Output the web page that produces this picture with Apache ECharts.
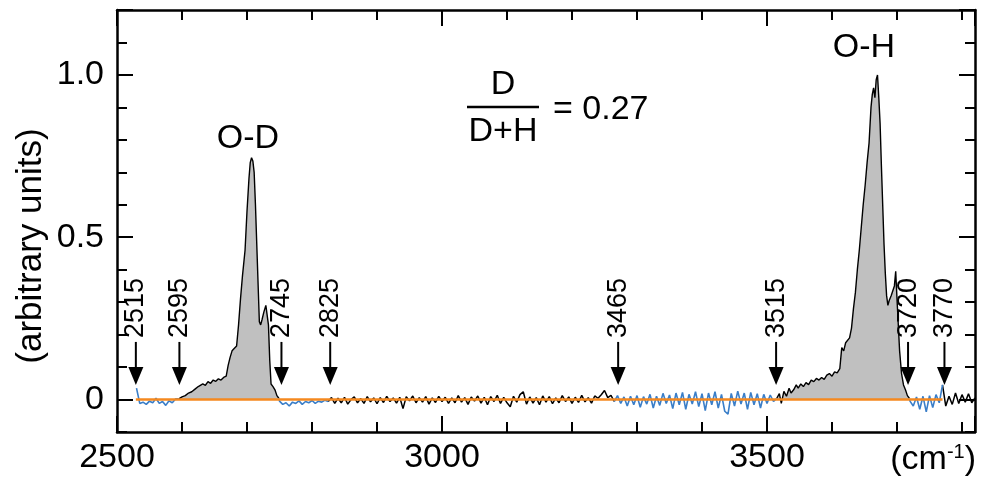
<!DOCTYPE html>
<html>
<head>
<meta charset="utf-8">
<title>O-D / O-H spectrum</title>
<script src="https://cdn.jsdelivr.net/npm/echarts@6.0.0/dist/echarts.min.js"></script>
<style>
  html, body { margin: 0; padding: 0; background: #fff; }
  #main { width: 982px; height: 479px; }
</style>
</head>
<body>
<div id="main"></div>
<script>
// ---- data (wavenumber in cm-1, intensity in arbitrary units) ----
const noiseStep = 5;

// baseline fit regions (blue), evenly sampled
const blueAStart = 2530;
const blueA = [0.035, -0.012, -0.008, -0.015, -0.005, -0.010, 0.004, -0.012, -0.006, -0.018, -0.004, -0.010, 0.002];
const blueBStart = 2750;
const blueB = [-0.005, -0.015, -0.010, -0.020, -0.008, -0.012, -0.004, -0.015, -0.006, -0.010, -0.003, -0.012, -0.005, -0.008, -0.002];
const blueDStart = 3270;
const blueD = [0.012, -0.012, 0.008, -0.020, 0.010, -0.016, 0.012, -0.024, 0.009, -0.014,
  0.016, -0.026, 0.010, -0.018, 0.019, -0.012, 0.014, -0.028, 0.020, -0.016,
  0.022, -0.030, 0.016, -0.014, 0.024, -0.022, 0.018, -0.034, 0.020, -0.016,
  0.024, -0.026, 0.016, -0.036, -0.045, 0.019, -0.020, 0.026, -0.014, 0.020,
  -0.030, 0.022, -0.016, 0.018, -0.026, 0.016, -0.012, 0.014, -0.006];
const blueEStart = 3720;
const blueE = [-0.005, -0.020, 0.008, -0.030, 0.010, -0.038, 0.012, -0.025, 0.015, -0.010];

// spectrum outside the fit regions (black)
const blackCStart = 2825;
const blackC = [-0.006, 0.006, -0.012, 0.004, -0.010, 0.007, -0.014, 0.000, 0.008, -0.010,
  0.003, -0.012, 0.009, -0.007, 0.005, -0.013, 0.006, -0.009, 0.010, -0.006,
  0.005, -0.011, 0.007, -0.028, 0.009, -0.004, 0.011, -0.010, 0.006, -0.008,
  0.009, -0.014, 0.005, -0.009, 0.010, -0.006, 0.007, -0.012, 0.005, -0.010,
  0.012, -0.008, 0.006, -0.015, 0.008, -0.005, 0.011, -0.011, 0.007, -0.016,
  0.009, -0.006, 0.013, -0.012, 0.007, -0.010, -0.022, 0.010, -0.008, 0.015,
  0.024, -0.014, 0.008, -0.011, 0.006, -0.016, 0.011, -0.008, 0.009, -0.013,
  0.005, -0.010, 0.012, -0.006, 0.008, -0.012, 0.007, -0.009, 0.013, -0.007,
  0.006, -0.011, 0.011, 0.004, 0.015, 0.028, 0.006, 0.013, -0.006];
const blackFStart = 3770;
const blackF = [0.045, -0.020, 0.010, -0.015, 0.020, -0.012, 0.015, -0.008, 0.018, -0.010, 0.005];

// integrated peaks (grey area)
const peakOD = [[2595, 0.002], [2600, 0.008], [2605, 0.012], [2610, 0.020], [2615, 0.024], [2620, 0.032],
  [2625, 0.040], [2628, 0.035], [2632, 0.048], [2636, 0.044], [2640, 0.055], [2644, 0.050],
  [2648, 0.060], [2652, 0.056], [2656, 0.064], [2660, 0.060], [2664, 0.068], [2668, 0.072],
  [2671, 0.105], [2674, 0.130], [2677, 0.150], [2680, 0.152], [2684, 0.165], [2687, 0.230],
  [2690, 0.310], [2693, 0.380], [2697, 0.460], [2700, 0.580], [2703, 0.680], [2705, 0.730],
  [2707, 0.745], [2709, 0.735], [2711, 0.700], [2713, 0.600], [2715, 0.480], [2717, 0.360],
  [2719, 0.240], [2721, 0.230], [2723, 0.245], [2726, 0.270], [2729, 0.290], [2731, 0.290],
  [2733, 0.230], [2735, 0.120], [2737, 0.048], [2740, 0.040], [2743, 0.030], [2746, 0.012], [2749, 0.004]];
const peakOH = [[3515, 0.004], [3519, 0.018], [3522, -0.012], [3526, 0.025], [3530, 0.010], [3534, 0.035],
  [3537, 0.020], [3541, 0.030], [3545, 0.045], [3548, 0.035], [3552, 0.048], [3556, 0.040],
  [3560, 0.052], [3564, 0.046], [3568, 0.060], [3572, 0.055], [3576, 0.065], [3580, 0.060],
  [3584, 0.068], [3588, 0.062], [3592, 0.075], [3596, 0.080], [3600, 0.072], [3604, 0.085],
  [3608, 0.082], [3612, 0.095], [3615, 0.160], [3618, 0.150], [3621, 0.175], [3624, 0.170],
  [3627, 0.190], [3630, 0.220], [3633, 0.280], [3636, 0.330], [3639, 0.400], [3642, 0.460],
  [3645, 0.530], [3648, 0.600], [3651, 0.660], [3654, 0.730], [3657, 0.790], [3660, 0.900],
  [3662, 0.940], [3664, 0.960], [3666, 0.930], [3668, 0.985], [3670, 1.000], [3672, 0.930],
  [3674, 0.850], [3676, 0.720], [3678, 0.600], [3680, 0.480], [3682, 0.390], [3684, 0.320],
  [3686, 0.290], [3688, 0.305], [3691, 0.320], [3694, 0.315], [3696, 0.350], [3698, 0.395],
  [3700, 0.310], [3702, 0.230], [3704, 0.150], [3707, 0.080], [3710, 0.045], [3713, 0.030],
  [3716, 0.012], [3719, 0.004]];

// baseline (orange) and arrow markers
const baselineX = [2529, 3770];
const baselineY = [0, 0];
const arrowX = [2529, 2596, 2753, 2828, 3271, 3514, 3717, 3773];
const arrowLabels = ['2515', '2595', '2745', '2825', '3465', '3515', '3720', '3770'];
const arrowTipY = 0.045;

// ---- helpers ----
const FONT = '"Liberation Sans", Arial, sans-serif';
function seg(start, ys) {
  return ys.map((y, i) => [start + i * noiseStep, y]);
}
function first(a) { return a[0]; }
function last(a) { return a[a.length - 1]; }

const segC = seg(blackCStart, blackC);
const segF = seg(blackFStart, blackF);
const blueSegs = [
  seg(blueAStart, blueA).concat([first(peakOD)]),
  [last(peakOD)].concat(seg(blueBStart, blueB), [first(segC)]),
  [last(segC)].concat(seg(blueDStart, blueD), [first(peakOH)]),
  [last(peakOH)].concat(seg(blueEStart, blueE), [first(segF)])
];
const blackSegs = [segC, segF];
const peakSegs = [peakOD, peakOH];

let myChart = echarts.init(document.getElementById('main'));

const axisLineStyle = { show: true, onZero: false, lineStyle: { color: '#000', width: 2.5 } };
const tickStyle = { color: '#000', width: 2 };

function xAx(pos, interval, tickLen, withLine, showLabel) {
  return {
    type: 'value', gridIndex: 0, position: pos, min: 2500, max: 3820, interval: interval,
    axisLine: withLine ? axisLineStyle : { show: false, onZero: false },
    axisTick: { show: true, inside: true, length: tickLen, lineStyle: tickStyle },
    axisLabel: showLabel ? {
      show: true, margin: 9, color: '#000', fontSize: 34, fontFamily: FONT,
      formatter: v => (v % 500 === 0 ? String(v) : '')
    } : { show: false },
    splitLine: { show: false }
  };
}
function yAx(grid, pos, min, interval, tickLen, withLine, showLabel) {
  return {
    type: 'value', gridIndex: grid, position: pos, min: min, max: 1.2, interval: interval,
    axisLine: withLine ? axisLineStyle : { show: false, onZero: false },
    axisTick: { show: true, inside: true, length: tickLen, lineStyle: tickStyle },
    axisLabel: showLabel ? {
      show: true, margin: 13, color: '#000', fontSize: 34, fontFamily: FONT,
      formatter: v => (v > 1.05 ? '' : (v === 0 ? '0' : v.toFixed(1)))
    } : { show: false },
    splitLine: { show: false }
  };
}

const series = [];
// grey peaks with black outline
peakSegs.forEach(d => series.push({
  type: 'line', xAxisIndex: 0, yAxisIndex: 0, data: d, symbol: 'none', z: 2,
  lineStyle: { color: '#000', width: 1.4 },
  areaStyle: { color: '#c0c0c0', opacity: 1 }
}));
blackSegs.forEach(d => series.push({
  type: 'line', xAxisIndex: 0, yAxisIndex: 0, data: d, symbol: 'none', z: 3,
  lineStyle: { color: '#000', width: 1.5 }
}));
blueSegs.forEach(d => series.push({
  type: 'line', xAxisIndex: 0, yAxisIndex: 0, data: d, symbol: 'none', z: 3,
  lineStyle: { color: '#3a7ec8', width: 1.6 }
}));
// baseline
series.push({
  type: 'line', xAxisIndex: 0, yAxisIndex: 0, symbol: 'none', z: 4,
  data: baselineX.map((x, i) => [x, baselineY[i]]),
  lineStyle: { color: '#f5891f', width: 2.5 }
});
// arrows with rotated labels
series.push({
  type: 'custom', xAxisIndex: 0, yAxisIndex: 0, z: 5, clip: false,
  data: arrowX.map(x => [x, arrowTipY]),
  renderItem: function (params, api) {
    const p = api.coord([api.value(0), api.value(1)]);
    const x = p[0], tip = p[1];
    return {
      type: 'group',
      children: [
        { type: 'line', shape: { x1: x, y1: tip - 43, x2: x, y2: tip - 14 }, style: { stroke: '#000', lineWidth: 2 } },
        { type: 'polygon', shape: { points: [[x - 7.5, tip - 18], [x + 7.5, tip - 18], [x, tip]] }, style: { fill: '#000' } },
        {
          type: 'text', x: x, y: tip - 47, rotation: Math.PI / 2,
          style: { text: arrowLabels[params.dataIndex], fill: '#000', font: '27px ' + FONT, align: 'left', verticalAlign: 'middle' }
        }
      ]
    };
  }
});

myChart.setOption({
  animation: false,
  backgroundColor: '#fff',
  grid: [
    { left: 117, right: 7, top: 10, bottom: 47 },
    // same pixel mapping, used for the labelled 0 / 0.5 / 1.0 ticks
    { left: 117, right: 7, top: 10, bottom: 79.5 }
  ],
  xAxis: [
    xAx('bottom', 100, 10, true, false),
    xAx('top', 100, 10, true, false),
    xAx('bottom', 500, 16, false, true),
    xAx('top', 500, 16, false, false),
    { type: 'value', gridIndex: 1, min: 2500, max: 3820, show: false }
  ],
  yAxis: [
    yAx(0, 'left', -0.1, 0.1, 10, true, false),
    yAx(0, 'right', -0.1, 0.1, 10, true, false),
    yAx(1, 'left', 0, 0.5, 16, false, true),
    yAx(1, 'right', 0, 0.5, 16, false, false)
  ],
  graphic: [
    { type: 'text', x: 31, y: 246, rotation: Math.PI / 2,
      style: { text: '(arbitrary units)', fill: '#000', font: '35px ' + FONT, align: 'center', verticalAlign: 'middle' } },
    { type: 'text', x: 248, y: 139,
      style: { text: 'O-D', fill: '#000', font: '34px ' + FONT, align: 'center', verticalAlign: 'middle' } },
    { type: 'text', x: 864, y: 48,
      style: { text: 'O-H', fill: '#000', font: '34px ' + FONT, align: 'center', verticalAlign: 'middle' } },
    { type: 'text', x: 503, y: 85,
      style: { text: 'D', fill: '#000', font: '34px ' + FONT, align: 'center', verticalAlign: 'middle' } },
    { type: 'line', shape: { x1: 467, y1: 107, x2: 539, y2: 107 }, style: { stroke: '#000', lineWidth: 2.3 } },
    { type: 'text', x: 503, y: 132,
      style: { text: 'D+H', fill: '#000', font: '34px ' + FONT, align: 'center', verticalAlign: 'middle' } },
    { type: 'text', x: 553, y: 110,
      style: { text: '= 0.27', fill: '#000', font: '34px ' + FONT, align: 'left', verticalAlign: 'middle' } },
    { type: 'text', x: 976, y: 460,
      style: {
        text: '{a|(cm}{s|-1}{a|)}', align: 'right', verticalAlign: 'middle',
        rich: {
          a: { fontSize: 34, fontFamily: FONT, fill: '#000', color: '#000', lineHeight: 36 },
          s: { fontSize: 20, fontFamily: FONT, fill: '#000', color: '#000', verticalAlign: 'top', lineHeight: 20 }
        }
      } }
  ],
  series: series
});
</script>
</body>
</html>
